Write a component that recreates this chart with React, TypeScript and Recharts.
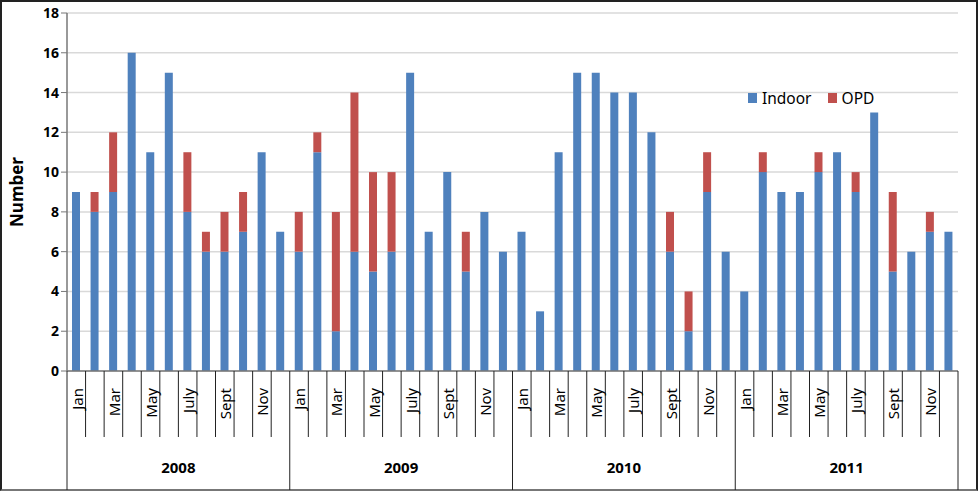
import React from "react";
import { BarChart, Bar, XAxis, YAxis, CartesianGrid, Legend } from "recharts";

const MONTHS = ["Jan", "Feb", "Mar", "Apr", "May", "Jun", "July", "Aug", "Sept", "Oct", "Nov", "Dec"];
const YEARS = ["2008", "2009", "2010", "2011"];

const INDOOR = [
  9, 8, 9, 16, 11, 15, 8, 6, 6, 7, 11, 7,
  6, 11, 2, 6, 5, 6, 15, 7, 10, 5, 8, 6,
  7, 3, 11, 15, 15, 14, 14, 12, 6, 2, 9, 6,
  4, 10, 9, 9, 10, 11, 9, 13, 5, 6, 7, 7,
];
const OPD = [
  0, 1, 3, 0, 0, 0, 3, 1, 2, 2, 0, 0,
  2, 1, 6, 8, 5, 4, 0, 0, 0, 2, 0, 0,
  0, 0, 0, 0, 0, 0, 0, 0, 2, 2, 2, 0,
  0, 1, 0, 0, 1, 0, 1, 0, 4, 0, 1, 0,
];
const Y_TICKS = [0, 2, 4, 6, 8, 10, 12, 14, 16, 18];

const data = INDOOR.map((v, i) => ({
  key: `${YEARS[Math.floor(i / 12)]}-${MONTHS[i % 12]}`,
  month: MONTHS[i % 12],
  year: YEARS[Math.floor(i / 12)],
  indoor: v,
  opd: OPD[i],
}));

const W = 978;
const H = 491;
const PLOT_LEFT = 67;
const PLOT_RIGHT = 958;
const PLOT_TOP = 13;
const AXIS_Y = 371;
const BAND = (PLOT_RIGHT - PLOT_LEFT) / data.length;
const FONT = "'Noto Sans', sans-serif";
const BLUE = "#4F81BD";
const RED = "#C0504D";

const MonthTick = (props: any) => {
  const { x, index } = props;
  const i = index as number;
  const d = data[i];
  const left = x - BAND / 2;
  const right = x + BAND / 2;
  const yearEnd = (i + 1) % 12 === 0;
  return (
    <g>
      {i === 0 && <line x1={left} x2={left} y1={AXIS_Y} y2={H - 1} stroke="#222" strokeWidth={1} />}
      <line x1={right} x2={right} y1={AXIS_Y} y2={yearEnd ? H - 1 : 437} stroke="#222" strokeWidth={1} />
      {i % 2 === 0 && (
        <text
          x={x + 1}
          y={388}
          transform={`rotate(-90, ${x + 1}, 388)`}
          textAnchor="end"
          dy="0.35em"
          fontSize={15}
          fontFamily={FONT}
          fill="#000"
        >
          {d.month}
        </text>
      )}
      {i % 12 === 5 && (
        <text x={right} y={468} textAnchor="middle" dy="0.35em" fontSize={15} fontWeight="bold" fontFamily={FONT} fill="#000">
          {d.year}
        </text>
      )}
    </g>
  );
};

const LegendContent = () => (
  <div style={{ display: "flex", alignItems: "center", fontFamily: FONT, fontSize: 15.5, color: "#000" }}>
    <span style={{ display: "inline-block", width: 9, height: 10, background: BLUE, marginRight: 5 }} />
    <span style={{ marginRight: 16 }}>Indoor</span>
    <span style={{ display: "inline-block", width: 9, height: 10, background: RED, marginRight: 5 }} />
    <span>OPD</span>
  </div>
);

export default function App() {
  return (
    <div
      style={{
        position: "absolute",
        left: 0,
        top: 0,
        width: W,
        height: H,
        background: "#fff",
        boxSizing: "border-box",
        border: "2px solid #222",
        borderBottomColor: "#777",
      }}
    >
      <div style={{ position: "absolute", left: -2, top: -2 }}>
        <BarChart
          width={W}
          height={H}
          data={data}
          margin={{ top: PLOT_TOP, right: W - PLOT_RIGHT, left: 0, bottom: 0 }}
          barSize={8}
        >
          <CartesianGrid vertical={false} stroke="#D9D9D9" strokeWidth={1.5} />
          <XAxis
            dataKey="key"
            interval={0}
            height={H - AXIS_Y}
            tickLine={false}
            axisLine={{ stroke: "#777", strokeWidth: 1.5 }}
            tick={<MonthTick />}
          />
          <YAxis
            width={PLOT_LEFT}
            domain={[0, 18]}
            ticks={Y_TICKS}
            interval={0}
            tickSize={6}
            tickLine={{ stroke: "#777" }}
            axisLine={{ stroke: "#777", strokeWidth: 1.5 }}
            tick={{ fontSize: 14, fontWeight: "bold", fontFamily: FONT, fill: "#000" }}
            label={{
              value: "Number",
              angle: -90,
              position: "insideLeft",
              dx: 12,
              style: { fontSize: 17, fontWeight: "bold", fontFamily: FONT, fill: "#000", textAnchor: "middle" },
            }}
          />
          <Legend
            layout="horizontal"
            verticalAlign="middle"
            align="center"
            content={<LegendContent />}
            wrapperStyle={{ left: 748, top: 87, width: "auto" }}
          />
          <Bar dataKey="indoor" stackId="a" fill={BLUE} isAnimationActive={false} />
          <Bar dataKey="opd" stackId="a" fill={RED} isAnimationActive={false} />
        </BarChart>
      </div>
    </div>
  );
}
